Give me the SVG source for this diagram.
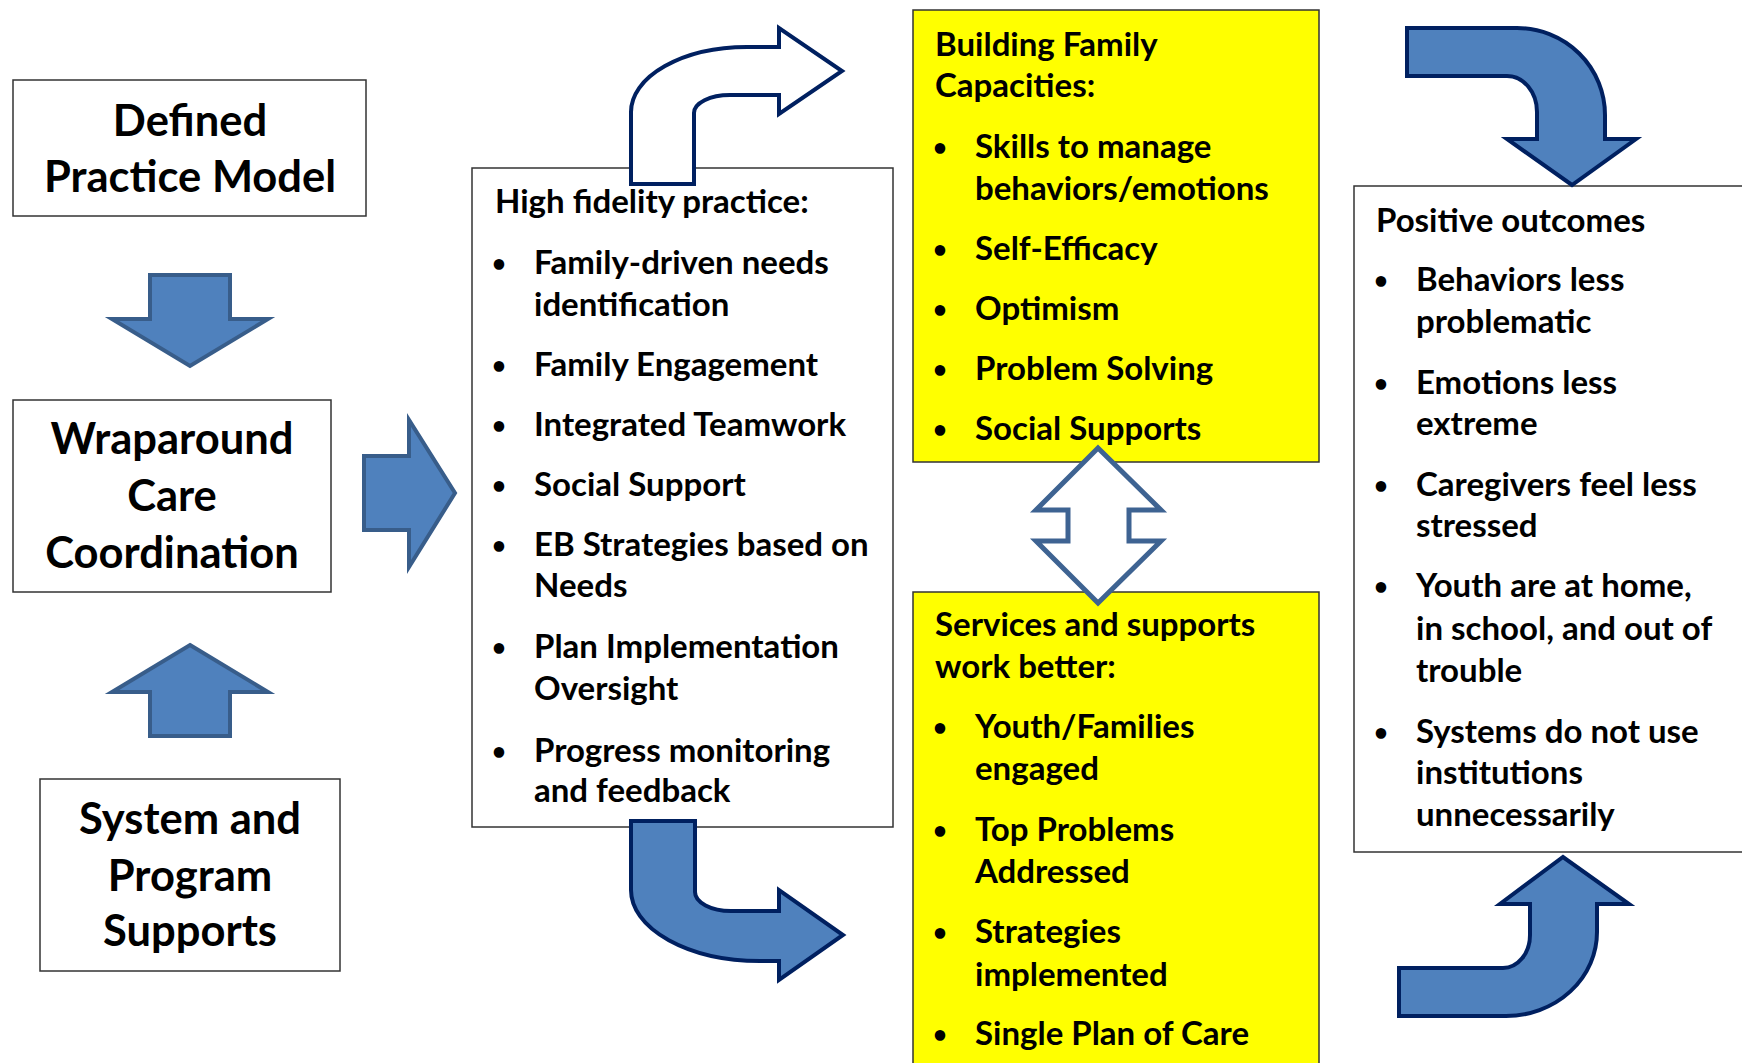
<svg xmlns="http://www.w3.org/2000/svg" width="1742" height="1063" viewBox="0 0 1742 1063">
<style>
.box{fill:#fff;stroke:#333;stroke-width:1.5}
.ybox{fill:#ffff00;stroke:#333;stroke-width:1.5}
.big{font-family:Lato,"Liberation Sans",sans-serif;font-weight:700;font-size:43.5px;fill:#000;text-anchor:middle}
.t{font-family:Lato,"Liberation Sans",sans-serif;font-weight:700;font-size:33px;fill:#000}
.b{font-size:24px}
.blk{fill:#4f81bd;stroke:#385d8a;stroke-width:4;stroke-linejoin:miter}
.bent{fill:#4f81bd;stroke:#002060;stroke-width:4;stroke-linejoin:miter}
.hol{fill:#fff;stroke:#002060;stroke-width:4;stroke-linejoin:miter}
.dbl{fill:#fff;stroke:#3e6392;stroke-width:5;stroke-linejoin:miter}
</style>
<rect width="1742" height="1063" fill="#fff"/>
<g id="defined-practice-model">
<rect class="box" x="13" y="80" width="353" height="136"/>
<text class="big" x="190" y="136">Defined</text>
<text class="big" x="190" y="192">Practice Model</text>
</g>
<g id="wraparound">
<rect class="box" x="13" y="400" width="318" height="192"/>
<text class="big" x="172" y="454">Wraparound</text>
<text class="big" x="172" y="511">Care</text>
<text class="big" x="172" y="568">Coordination</text>
</g>
<g id="system-supports">
<rect class="box" x="40" y="779" width="300" height="192"/>
<text class="big" x="190" y="834">System and</text>
<text class="big" x="190" y="891">Program</text>
<text class="big" x="190" y="946">Supports</text>
</g>
<g id="high-fidelity">
<rect class="box" x="472" y="168" width="421" height="659"/>
<g class="t" transform="translate(0,2)">
<text x="495" y="211">High fidelity practice:</text>
<text class="b" x="492" y="270">•</text><text x="534" y="272">Family-driven needs</text>
<text x="534" y="314">identification</text>
<text class="b" x="492" y="372">•</text><text x="534" y="374">Family Engagement</text>
<text class="b" x="492" y="432">•</text><text x="534" y="434">Integrated Teamwork</text>
<text class="b" x="492" y="492">•</text><text x="534" y="494">Social Support</text>
<text class="b" x="492" y="552">•</text><text x="534" y="554">EB Strategies based on</text>
<text x="534" y="595">Needs</text>
<text class="b" x="492" y="654">•</text><text x="534" y="656">Plan Implementation</text>
<text x="534" y="698">Oversight</text>
<text class="b" x="492" y="758">•</text><text x="534" y="760">Progress monitoring</text>
<text x="534" y="800">and feedback</text>
</g>
</g>
<g id="building-family">
<rect class="ybox" x="913" y="10" width="406" height="452"/>
<g class="t" transform="translate(0,2)">
<text x="935" y="54">Building Family</text>
<text x="935" y="95">Capacities:</text>
<text class="b" x="933" y="154">•</text><text x="975" y="156">Skills to manage</text>
<text x="975" y="198">behaviors/emotions</text>
<text class="b" x="933" y="256">•</text><text x="975" y="258">Self-Efficacy</text>
<text class="b" x="933" y="316">•</text><text x="975" y="318">Optimism</text>
<text class="b" x="933" y="376">•</text><text x="975" y="378">Problem Solving</text>
<text class="b" x="933" y="436">•</text><text x="975" y="438">Social Supports</text>
</g>
</g>
<g id="services">
<rect class="ybox" x="913" y="592" width="406" height="490"/>
<g class="t" transform="translate(0,2)">
<text x="935" y="634">Services and supports</text>
<text x="935" y="676">work better:</text>
<text class="b" x="933" y="734">•</text><text x="975" y="736">Youth/Families</text>
<text x="975" y="778">engaged</text>
<text class="b" x="933" y="837">•</text><text x="975" y="839">Top Problems</text>
<text x="975" y="881">Addressed</text>
<text class="b" x="933" y="939">•</text><text x="975" y="941">Strategies</text>
<text x="975" y="984">implemented</text>
<text class="b" x="933" y="1041">•</text><text x="975" y="1043">Single Plan of Care</text>
</g>
</g>
<g id="positive-outcomes">
<rect class="box" x="1354" y="186" width="400" height="666"/>
<g class="t" transform="translate(0,2)">
<text x="1376" y="230">Positive outcomes</text>
<text class="b" x="1374" y="287">•</text><text x="1416" y="289">Behaviors less</text>
<text x="1416" y="331">problematic</text>
<text class="b" x="1374" y="390">•</text><text x="1416" y="392">Emotions less</text>
<text x="1416" y="433">extreme</text>
<text class="b" x="1374" y="492">•</text><text x="1416" y="494">Caregivers feel less</text>
<text x="1416" y="535">stressed</text>
<text class="b" x="1374" y="593">•</text><text x="1416" y="595">Youth are at home,</text>
<text x="1416" y="638">in school, and out of</text>
<text x="1416" y="680">trouble</text>
<text class="b" x="1374" y="739">•</text><text x="1416" y="741">Systems do not use</text>
<text x="1416" y="782">institutions</text>
<text x="1416" y="824">unnecessarily</text>
</g>
</g>
<g id="connectors">
<polygon class="blk" points="150,275 230,275 230,319 268,319 190,366 112,319 150,319"/>
<polygon class="blk" points="190,645 268,692 230,692 230,736 150,736 150,692 112,692"/>
<polygon class="blk" points="364,456 409,456 409,420 455,493 409,567 409,530 364,530"/>
<path class="hol" d="M631,184 L631,112 A116,65 0 0 1 747,47 L779,47 L779,28 L842,71 L779,114 L779,95 L730,95 A36,18 0 0 0 694,113 L694,184 Z"/>
<path class="bent" d="M631,821 L695,821 L695,892 A36,19 0 0 0 731,911 L779,911 L779,890 L843,935 L779,980 L779,961 L760,961 A129,71 0 0 1 631,890 Z"/>
<polygon class="dbl" points="1098,448 1161,510 1129,510 1129,541 1161,541 1098,603 1036,541 1068,541 1068,510 1036,510"/>
<path class="bent" d="M1407,28 L1517,28 A88,87 0 0 1 1605,115 L1605,139 L1636,139 L1572,185 L1507,139 L1537,139 L1537,112 A30,36 0 0 0 1507,76 L1407,76 Z"/>
<path class="bent" d="M1399,968 L1503,968 A27,33 0 0 0 1530,935 L1530,904 L1500,904 L1563,857 L1629,904 L1597,904 L1597,932 A91,84 0 0 1 1506,1016 L1399,1016 Z"/>
</g>
</svg>
